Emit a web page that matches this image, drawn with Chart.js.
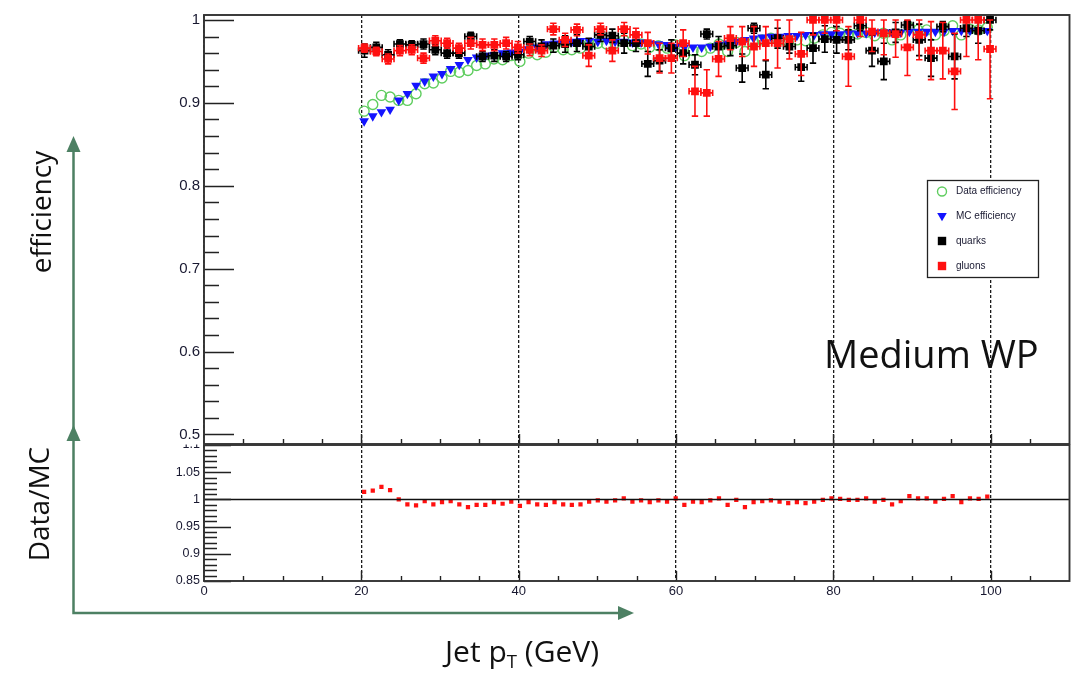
<!DOCTYPE html>
<html>
<head>
<meta charset="utf-8">
<title>Jet tagging efficiency vs jet pT</title>
<script src="https://cdn.jsdelivr.net/npm/chart.js@4.4.1/dist/chart.umd.min.js"></script>
<style>
  html, body { margin: 0; padding: 0; background: #fff; }
  #wrap { position: relative; width: 1076px; height: 678px; overflow: hidden; background: #fff; }
  #wrap canvas { position: absolute; left: 0; top: 0; filter: blur(0.45px); }
  #arrows { position: absolute; left: 0; top: 0; }
  .note { position: absolute; font-family: "Open Sans", "Noto Sans", sans-serif; color: #111; white-space: nowrap; line-height: 1; }
  .rot { transform: translate(-50%, -50%) rotate(-90deg); }
  .sub { font-size: 0.62em; position: relative; top: 0.32em; }
</style>
</head>
<body>
<div id="wrap">
  <canvas id="ratioChart" width="1076" height="678"></canvas>
  <canvas id="effChart" width="1076" height="678"></canvas>
  <svg id="arrows" width="1076" height="678">
    <g stroke="#4d8063" stroke-width="2.5" fill="none">
      <polyline points="73.5,150 73.5,613 622,613"/>
    </g>
    <g fill="#4d8063">
      <polygon points="73.5,136 66.5,152 80.5,152"/>
      <polygon points="73.5,425 66.5,441 80.5,441"/>
      <polygon points="634,613 618,606 618,620"/>
    </g>
  </svg>
  <div class="note rot" style="left:40px; top:212px; font-size:28px;">efficiency</div>
  <div class="note rot" style="left:38px; top:504px; font-size:28px;">Data/MC</div>
  <div class="note" style="left:445px; top:636px; font-size:30px;">Jet p<span class="sub">T</span> (GeV)</div>
  <div class="note" style="left:824px; top:334px; font-size:38px;">Medium WP</div>
</div>

<script>
// ---- efficiency histograms (1.1 GeV bins) ----
const effBins = [20.35, 21.45, 22.55, 23.65, 24.75, 25.85, 26.95, 28.05, 29.15, 30.25,
  31.35, 32.45, 33.55, 34.65, 35.75, 36.85, 37.95, 39.05, 40.15, 41.25,
  42.35, 43.45, 44.55, 45.65, 46.75, 47.85, 48.95, 50.05, 51.15, 52.25,
  53.35, 54.45, 55.55, 56.65, 57.75, 58.85, 59.95, 61.05, 62.15, 63.25,
  64.35, 65.45, 66.55, 67.65, 68.75, 69.85, 70.95, 72.05, 73.15, 74.25,
  75.35, 76.45, 77.55, 78.65, 79.75, 80.85, 81.95, 83.05, 84.15, 85.25,
  86.35, 87.45, 88.55, 89.65, 90.75, 91.85, 92.95, 94.05, 95.15, 96.25,
  97.35, 98.45, 99.55];

const dataEff = [0.890, 0.898, 0.909, 0.907, 0.903, 0.903, 0.911, 0.923, 0.924, 0.930,
  0.938, 0.937, 0.939, 0.945, 0.947, 0.953, 0.952, 0.957, 0.950, 0.960,
  0.958, 0.961, 0.967, 0.964, 0.964, 0.966, 0.971, 0.972, 0.971, 0.972,
  0.976, 0.969, 0.971, 0.967, 0.969, 0.966, 0.970, 0.957, 0.963, 0.962,
  0.966, 0.971, 0.962, 0.973, 0.962, 0.973, 0.976, 0.978, 0.976, 0.974,
  0.976, 0.975, 0.978, 0.982, 0.985, 0.984, 0.983, 0.983, 0.985, 0.981,
  0.984, 0.976, 0.982, 0.991, 0.988, 0.988, 0.982, 0.987, 0.993, 0.982,
  0.989, 0.988, 0.991];

const mcEff = [0.878, 0.884, 0.889, 0.892, 0.903, 0.911, 0.921, 0.926, 0.932, 0.935,
  0.941, 0.946, 0.952, 0.955, 0.957, 0.958, 0.960, 0.961, 0.962, 0.965,
  0.967, 0.971, 0.972, 0.973, 0.974, 0.975, 0.975, 0.974, 0.975, 0.974,
  0.974, 0.973, 0.973, 0.972, 0.971, 0.970, 0.968, 0.967, 0.967, 0.967,
  0.968, 0.970, 0.972, 0.974, 0.976, 0.978, 0.979, 0.980, 0.980, 0.981,
  0.981, 0.982, 0.982, 0.983, 0.983, 0.983, 0.984, 0.984, 0.984, 0.985,
  0.985, 0.985, 0.985, 0.986, 0.986, 0.986, 0.986, 0.986, 0.987, 0.987,
  0.987, 0.987, 0.987];

const dataOverMc = [1.014, 1.016, 1.023, 1.017, 1.000, 0.991, 0.989, 0.997, 0.991, 0.995,
  0.997, 0.991, 0.986, 0.990, 0.990, 0.995, 0.992, 0.996, 0.988, 0.995,
  0.991, 0.990, 0.995, 0.991, 0.990, 0.991, 0.996, 0.998, 0.996, 0.998,
  1.002, 0.996, 0.998, 0.995, 0.998, 0.996, 1.002, 0.990, 0.996, 0.995,
  0.998, 1.002, 0.990, 0.999, 0.986, 0.995, 0.997, 0.998, 0.996, 0.993,
  0.995, 0.993, 0.996, 0.999, 1.002, 1.001, 0.999, 0.999, 1.002, 0.996,
  0.999, 0.991, 0.997, 1.006, 1.002, 1.002, 0.996, 1.001, 1.006, 0.995,
  1.002, 1.001, 1.005];

// ---- quark / gluon efficiencies (1.5 GeV bins) ----
const qgBins = [20.4, 21.9, 23.4, 24.9, 26.4, 27.9, 29.4, 30.9, 32.4, 33.9,
  35.4, 36.9, 38.4, 39.9, 41.4, 42.9, 44.4, 45.9, 47.4, 48.9,
  50.4, 51.9, 53.4, 54.9, 56.4, 57.9, 59.4, 60.9, 62.4, 63.9,
  65.4, 66.9, 68.4, 69.9, 71.4, 72.9, 74.4, 75.9, 77.4, 78.9,
  80.4, 81.9, 83.4, 84.9, 86.4, 87.9, 89.4, 90.9, 92.4, 93.9,
  95.4, 96.9, 98.4, 99.9];
const qgHalfWidth = 0.75;

const quarkEff = [0.963, 0.967, 0.958, 0.971, 0.970, 0.971, 0.964, 0.960, 0.960, 0.980,
  0.956, 0.957, 0.956, 0.958, 0.974, 0.968, 0.969, 0.971, 0.972, 0.968,
  0.982, 0.981, 0.972, 0.972, 0.947, 0.951, 0.966, 0.960, 0.946, 0.983,
  0.968, 0.969, 0.942, 0.990, 0.934, 0.978, 0.968, 0.943, 0.966, 0.977,
  0.976, 0.976, 0.993, 0.963, 0.950, 0.985, 0.994, 0.976, 0.954, 0.992,
  0.956, 0.990, 0.987, 1.000];
const quarkErr = [0.008, 0.006, 0.006, 0.005, 0.005, 0.006, 0.006, 0.006, 0.006, 0.005,
  0.006, 0.007, 0.006, 0.006, 0.006, 0.008, 0.008, 0.010, 0.010, 0.010,
  0.008, 0.008, 0.012, 0.010, 0.015, 0.013, 0.010, 0.013, 0.012, 0.006,
  0.012, 0.012, 0.017, 0.006, 0.017, 0.012, 0.008, 0.017, 0.018, 0.016,
  0.016, 0.012, 0.006, 0.019, 0.022, 0.012, 0.005, 0.019, 0.022, 0.006,
  0.027, 0.010, 0.015, 0.012];

const gluonEff = [0.966, 0.962, 0.953, 0.963, 0.964, 0.954, 0.975, 0.972, 0.966, 0.972,
  0.970, 0.970, 0.972, 0.967, 0.964, 0.963, 0.989, 0.976, 0.988, 0.957,
  0.989, 0.963, 0.989, 0.982, 0.972, 0.954, 0.954, 0.972, 0.914, 0.912,
  0.953, 0.978, 0.974, 0.968, 0.972, 0.972, 0.977, 0.959, 1.000, 1.000,
  1.000, 0.956, 1.000, 0.986, 0.984, 0.983, 0.967, 0.982, 0.963, 0.963,
  0.938, 1.000, 1.000, 0.965];
const gluonErr = [0.005, 0.005, 0.006, 0.006, 0.006, 0.006, 0.006, 0.006, 0.006, 0.007,
  0.007, 0.007, 0.007, 0.007, 0.007, 0.007, 0.007, 0.008, 0.007, 0.013,
  0.007, 0.013, 0.008, 0.008, 0.013, 0.018, 0.018, 0.016, 0.030, 0.028,
  0.021, 0.014, 0.018, 0.024, 0.020, 0.030, 0.024, 0.026, 0.018, 0.016,
  0.013, 0.036, 0.020, 0.024, 0.026, 0.028, 0.034, 0.030, 0.035, 0.034,
  0.046, 0.044, 0.048, 0.060];

// ---- axes ----
const ptRange = [0, 110];
const ptTicks = [0, 20, 40, 60, 80, 100];
const effRange = [0.4885, 1.006];
const effTicks = [0.5, 0.6, 0.7, 0.8, 0.9, 1.0];
const ratioRange = [0.85, 1.1];
const ratioTicks = [0.85, 0.9, 0.95, 1.0, 1.05, 1.1];

const legendEntries = ['Data efficiency', 'MC efficiency', 'quarks', 'gluons'];

const COL_DATA = '#5fcd5f';
const COL_MC = '#1414ff';
const COL_Q = '#000000';
const COL_G = '#ff1010';
const AXIS_COL = '#222';
const LABEL_COL = '#181830';

function pts(xs, ys) { return xs.map((x, i) => ({ x: x, y: ys[i] })); }
function fmt(v) { return String(Math.round(v * 100) / 100); }

// inward ROOT-style tick marks and the frame
function drawFrameTicks(chart, cfg) {
  const ctx = chart.ctx, a = chart.chartArea;
  const xs = chart.scales.x, ys = chart.scales.y;
  ctx.save();
  ctx.strokeStyle = AXIS_COL;
  ctx.lineWidth = 1.4;
  ctx.beginPath();
  const eps = 1e-6;
  for (let v = cfg.yStart; v <= ys.max + eps; v += cfg.yMinor) {
    const vv = Math.round(v * 1000) / 1000;
    if (vv < ys.min - eps) continue;
    const isMajor = cfg.yMajors.some(m => Math.abs(m - vv) < 1e-4);
    const py = Math.round(ys.getPixelForValue(vv)) + 0.5;
    ctx.moveTo(a.left, py);
    ctx.lineTo(a.left + (isMajor ? cfg.yMajorLen : cfg.yMinorLen), py);
  }
  for (let v = 5; v < xs.max; v += 5) {
    const px = Math.round(xs.getPixelForValue(v)) + 0.5;
    const len = (v % 20 === 0) ? 10 : 5;
    ctx.moveTo(px, a.bottom);
    ctx.lineTo(px, a.bottom - len);
  }
  ctx.stroke();
  ctx.lineWidth = 1.9;
  ctx.strokeStyle = '#333';
  ctx.strokeRect(a.left, a.top, a.right - a.left, a.bottom - a.top);
  ctx.restore();
}

// error bars for a dataset, drawn just before its markers
const errorBarPlugin = {
  id: 'errorBars',
  beforeDatasetDraw(chart, args) {
    const ds = chart.data.datasets[args.index];
    if (!ds.errY) return;
    const ctx = chart.ctx, a = chart.chartArea;
    const xs = chart.scales.x, ys = chart.scales.y;
    ctx.save();
    ctx.beginPath();
    ctx.rect(a.left, a.top, a.right - a.left, a.bottom - a.top);
    ctx.clip();
    ctx.strokeStyle = ds.backgroundColor;
    ctx.lineWidth = 1.6;
    const cap = 3.2;
    ds.data.forEach((p, i) => {
      const e = ds.errY[i];
      const hi = Math.min(p.y + e, 1.0);
      const lo = p.y - e;
      const px = xs.getPixelForValue(p.x);
      const pxL = xs.getPixelForValue(p.x - ds.errX);
      const pxR = xs.getPixelForValue(p.x + ds.errX);
      const py = ys.getPixelForValue(p.y);
      const pyH = ys.getPixelForValue(hi);
      const pyL = ys.getPixelForValue(lo);
      ctx.beginPath();
      ctx.moveTo(pxL, py); ctx.lineTo(pxR, py);
      ctx.moveTo(pxL, py - cap); ctx.lineTo(pxL, py + cap);
      ctx.moveTo(pxR, py - cap); ctx.lineTo(pxR, py + cap);
      ctx.moveTo(px, pyH); ctx.lineTo(px, pyL);
      if (hi > p.y + 1e-6) { ctx.moveTo(px - cap, pyH); ctx.lineTo(px + cap, pyH); }
      ctx.moveTo(px - cap, pyL); ctx.lineTo(px + cap, pyL);
      ctx.stroke();
    });
    ctx.restore();
  }
};

const whiteTopPlugin = {
  id: 'whiteTop',
  beforeDraw(chart) {
    const ctx = chart.ctx;
    ctx.save();
    ctx.fillStyle = '#fff';
    ctx.fillRect(0, 0, chart.width, chart.chartArea.bottom + 0.5);
    ctx.restore();
  }
};

const effFramePlugin = {
  id: 'effFrame',
  afterDraw(chart) {
    drawFrameTicks(chart, { yStart: 0.5, yMinor: 0.02, yMajors: effTicks, yMajorLen: 30, yMinorLen: 15 });
    // legend box
    const ctx = chart.ctx;
    const bx = 927, by = 180, bw = 111, bh = 97;
    ctx.save();
    ctx.fillStyle = '#fff';
    ctx.fillRect(bx, by, bw, bh);
    ctx.strokeStyle = '#222';
    ctx.lineWidth = 1.3;
    ctx.strokeRect(bx + 0.5, by + 0.5, bw, bh);
    const rowY = [191.5, 216.5, 241, 266];
    const mx = 942;
    ctx.font = '10px "Liberation Sans", Arial, sans-serif';
    ctx.textBaseline = 'middle';
    ctx.fillStyle = LABEL_COL;
    legendEntries.forEach((t, i) => ctx.fillText(t, 956, rowY[i]));
    // markers
    ctx.lineWidth = 1.4;
    ctx.strokeStyle = COL_DATA;
    ctx.beginPath(); ctx.arc(mx, rowY[0], 4.5, 0, Math.PI * 2); ctx.stroke();
    ctx.fillStyle = COL_MC;
    ctx.beginPath();
    ctx.moveTo(mx - 4.8, rowY[1] - 3.6); ctx.lineTo(mx + 4.8, rowY[1] - 3.6); ctx.lineTo(mx, rowY[1] + 4.8);
    ctx.closePath(); ctx.fill();
    ctx.fillStyle = COL_Q; ctx.fillRect(mx - 4.2, rowY[2] - 4.2, 8.4, 8.4);
    ctx.fillStyle = COL_G; ctx.fillRect(mx - 4.2, rowY[3] - 4.2, 8.4, 8.4);
    ctx.restore();
  }
};

const ratioFramePlugin = {
  id: 'ratioFrame',
  afterDraw(chart) {
    const ctx = chart.ctx, a = chart.chartArea;
    const py = Math.round(chart.scales.y.getPixelForValue(1.0)) + 0.5;
    ctx.save();
    ctx.strokeStyle = '#111';
    ctx.lineWidth = 1.7;
    ctx.beginPath(); ctx.moveTo(a.left, py); ctx.lineTo(a.right, py); ctx.stroke();
    ctx.restore();
    drawFrameTicks(chart, { yStart: 0.85, yMinor: 0.01, yMajors: ratioTicks, yMajorLen: 27, yMinorLen: 13 });
  }
};

const xGrid = {
  type: 'linear', min: ptRange[0], max: ptRange[1],
  afterBuildTicks: s => { s.ticks = ptTicks.map(v => ({ value: v })); },
  grid: { display: true, drawTicks: false, color: '#1a1a1a', lineWidth: 1.3 },
  border: { display: false, dash: [3, 2] }
};

const base = {
  responsive: false,
  animation: false,
  events: [],
  plugins: { legend: { display: false }, tooltip: { enabled: false } }
};

new Chart(document.getElementById('ratioChart'), {
  type: 'scatter',
  data: {
    datasets: [{
      label: 'Data/MC',
      data: pts(effBins, dataOverMc),
      pointStyle: 'rect', pointRadius: 3.0,
      backgroundColor: COL_G, borderColor: COL_G, borderWidth: 0,
      showLine: false, clip: 0
    }]
  },
  options: Object.assign({}, base, {
    layout: { padding: { left: 0, top: 445, right: 6.5, bottom: 77 } },
    scales: {
      x: Object.assign({}, xGrid, {
        ticks: { display: true, padding: 3, autoSkip: false, maxRotation: 0,
          font: { family: '"Liberation Sans", Arial, sans-serif', size: 13 }, color: LABEL_COL,
          callback: v => String(v) },
        afterFit: s => { s.height = 20; }
      }),
      y: {
        type: 'linear', min: ratioRange[0], max: ratioRange[1],
        afterBuildTicks: s => { s.ticks = ratioTicks.map(v => ({ value: v })); },
        grid: { display: false, drawTicks: false },
        border: { display: false },
        ticks: { padding: 4, autoSkip: false,
          font: { family: '"Liberation Sans", Arial, sans-serif', size: 12.5 }, color: LABEL_COL,
          callback: v => fmt(v) },
        afterFit: s => { s.width = 204; }
      }
    }
  }),
  plugins: [ratioFramePlugin]
});

new Chart(document.getElementById('effChart'), {
  type: 'scatter',
  data: {
    datasets: [
      { label: legendEntries[0], data: pts(effBins, dataEff), order: 4,
        pointStyle: 'circle', pointRadius: 5.0, borderWidth: 1.4,
        borderColor: COL_DATA, backgroundColor: 'rgba(0,0,0,0)', showLine: false, clip: 0 },
      { label: legendEntries[1], data: pts(effBins, mcEff), order: 3,
        pointStyle: 'triangle', pointRotation: 180, pointRadius: 5.6, borderWidth: 0,
        borderColor: COL_MC, backgroundColor: COL_MC, showLine: false, clip: 0 },
      { label: legendEntries[2], data: pts(qgBins, quarkEff), order: 2,
        errY: quarkErr, errX: qgHalfWidth,
        pointStyle: 'rect', pointRadius: 5.5, borderWidth: 0,
        borderColor: COL_Q, backgroundColor: COL_Q, showLine: false, clip: 0 },
      { label: legendEntries[3], data: pts(qgBins, gluonEff), order: 1,
        errY: gluonErr, errX: qgHalfWidth,
        pointStyle: 'rect', pointRadius: 5.5, borderWidth: 0,
        borderColor: COL_G, backgroundColor: COL_G, showLine: false, clip: 0 }
    ]
  },
  options: Object.assign({}, base, {
    layout: { padding: { left: 0, top: 15, right: 6.5, bottom: 234 } },
    scales: {
      x: Object.assign({}, xGrid, {
        ticks: { display: false },
        afterFit: s => { s.height = 0; }
      }),
      y: {
        type: 'linear', min: effRange[0], max: effRange[1],
        afterBuildTicks: s => { s.ticks = effTicks.map(v => ({ value: v })); },
        grid: { display: false, drawTicks: false },
        border: { display: false },
        ticks: { padding: 4, autoSkip: false,
          font: { family: '"Liberation Sans", Arial, sans-serif', size: 15 }, color: LABEL_COL,
          callback: v => fmt(v) },
        afterFit: s => { s.width = 204; }
      }
    }
  }),
  plugins: [whiteTopPlugin, errorBarPlugin, effFramePlugin]
});
</script>
</body>
</html>
